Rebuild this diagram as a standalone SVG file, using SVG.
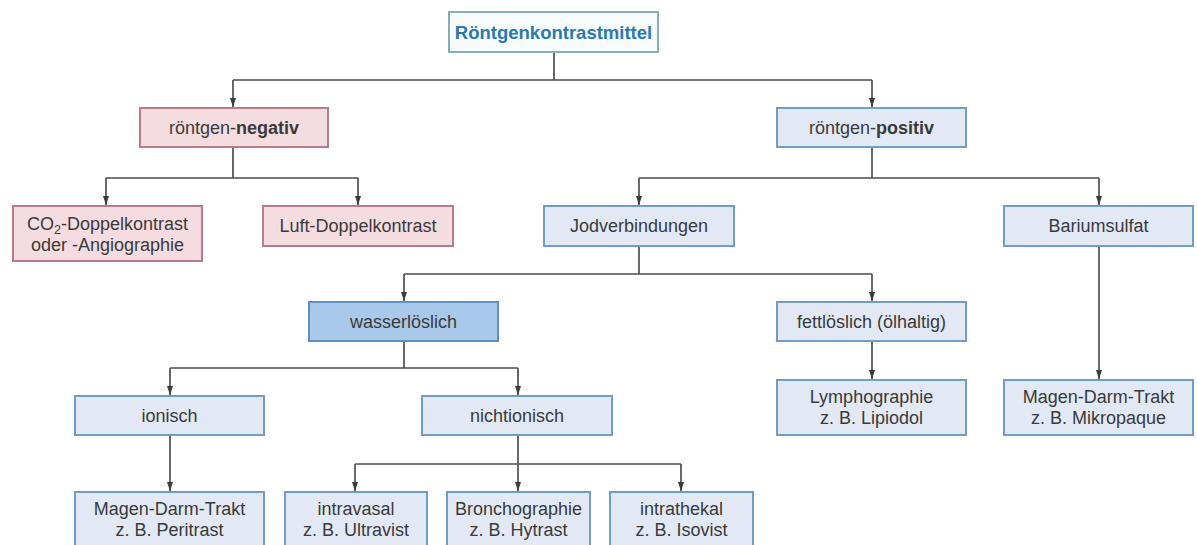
<svg xmlns="http://www.w3.org/2000/svg" width="1197" height="545" viewBox="0 0 1197 545">
<defs>
<marker id="arr" viewBox="0 0 9 6" refX="9" refY="3" markerWidth="9" markerHeight="6" markerUnits="userSpaceOnUse" orient="auto">
<path d="M0,0 L9,3 L0,6 Z" fill="#3c3c3c"/>
</marker>
</defs>
<style>
.bg{fill:#ffffff}
.root{fill:#f8fbfc;stroke:#86adb8;stroke-width:2}
.neg{fill:#f5dce1;stroke:#b77c89;stroke-width:2}
.pos{fill:#e2e9f5;stroke:#6f9dc4;stroke-width:2}
.dark{fill:#a9c9ea;stroke:#5f90c0;stroke-width:2}
text{font-family:"Liberation Sans",Arial,sans-serif;font-size:18px;fill:#3a3a3a;text-anchor:middle}
.rt{font-weight:bold;fill:#2a78b0;font-size:18.5px}
.b{font-weight:bold}
.c path{stroke:#4f4f4f;stroke-width:1.7;fill:none}
</style>
<rect class="bg" x="0" y="0" width="1197" height="545"/>
<g class="c" id="connectors">
<path d="M554 52 V80 M233 80 H872"/>
<path d="M233 80 V107" marker-end="url(#arr)"/>
<path d="M872 80 V107" marker-end="url(#arr)"/>
<path d="M233 147 V178 M106 178 H358"/>
<path d="M106 178 V205" marker-end="url(#arr)"/>
<path d="M358 178 V205" marker-end="url(#arr)"/>
<path d="M872 147 V178 M639 178 H1099"/>
<path d="M639 178 V205" marker-end="url(#arr)"/>
<path d="M1099 178 V205" marker-end="url(#arr)"/>
<path d="M639 246 V274 M404 274 H872"/>
<path d="M404 274 V301" marker-end="url(#arr)"/>
<path d="M872 274 V301" marker-end="url(#arr)"/>
<path d="M872 341 V379" marker-end="url(#arr)"/>
<path d="M1099 246 V379" marker-end="url(#arr)"/>
<path d="M404 341 V368 M170 368 H518"/>
<path d="M170 368 V395" marker-end="url(#arr)"/>
<path d="M518 368 V395" marker-end="url(#arr)"/>
<path d="M170 435 V491" marker-end="url(#arr)"/>
<path d="M518 435 V491" marker-end="url(#arr)"/>
<path d="M355 464 H681"/>
<path d="M355 464 V491" marker-end="url(#arr)"/>
<path d="M681 464 V491" marker-end="url(#arr)"/>
</g>
<g id="n-root"><rect class="root" x="449" y="12" width="209" height="40"/><text class="rt" x="553.5" y="38.5">Röntgenkontrastmittel</text></g>
<g id="n-negativ"><rect class="neg" x="140" y="108" width="188" height="39"/><text x="234" y="134">röntgen-<tspan class="b">negativ</tspan></text></g>
<g id="n-positiv"><rect class="pos" x="777" y="108" width="189" height="39"/><text x="871.5" y="134">röntgen-<tspan class="b">positiv</tspan></text></g>
<g id="n-co2"><rect class="neg" x="13" y="206" width="189" height="55"/><text x="107.5" y="230">CO<tspan font-size="12.5" dy="4">2</tspan><tspan dy="-4">-Doppelkontrast</tspan></text><text x="107.5" y="251">oder -Angiographie</text></g>
<g id="n-luft"><rect class="neg" x="263" y="206" width="190" height="40"/><text x="358" y="232">Luft-Doppelkontrast</text></g>
<g id="n-jod"><rect class="pos" x="544" y="206" width="190" height="40"/><text x="639" y="232">Jodverbindungen</text></g>
<g id="n-barium"><rect class="pos" x="1004" y="206" width="189" height="40"/><text x="1098.5" y="232">Bariumsulfat</text></g>
<g id="n-wasser"><rect class="dark" x="309" y="302" width="189" height="39"/><text x="403.5" y="328">wasserlöslich</text></g>
<g id="n-fett"><rect class="pos" x="777" y="302" width="189" height="39"/><text x="871.5" y="328">fettlöslich (ölhaltig)</text></g>
<g id="n-lymph"><rect class="pos" x="777" y="380" width="189" height="55"/><text x="871.5" y="403">Lymphographie</text><text x="871.5" y="424">z. B. Lipiodol</text></g>
<g id="n-mikro"><rect class="pos" x="1004" y="380" width="189" height="55"/><text x="1098.5" y="403">Magen-Darm-Trakt</text><text x="1098.5" y="424">z. B. Mikropaque</text></g>
<g id="n-ionisch"><rect class="pos" x="75" y="396" width="189" height="39"/><text x="169.5" y="422">ionisch</text></g>
<g id="n-nicht"><rect class="pos" x="422" y="396" width="190" height="39"/><text x="517" y="422">nichtionisch</text></g>
<g id="n-peri"><rect class="pos" x="75" y="492" width="189" height="62"/><text x="169.5" y="515">Magen-Darm-Trakt</text><text x="169.5" y="536">z. B. Peritrast</text></g>
<g id="n-intravasal"><rect class="pos" x="285" y="492" width="142" height="62"/><text x="356" y="515">intravasal</text><text x="356" y="536">z. B. Ultravist</text></g>
<g id="n-broncho"><rect class="pos" x="447" y="492" width="143" height="62"/><text x="518.5" y="515">Bronchographie</text><text x="518.5" y="536">z. B. Hytrast</text></g>
<g id="n-intrathekal"><rect class="pos" x="610" y="492" width="143" height="62"/><text x="681.5" y="515">intrathekal</text><text x="681.5" y="536">z. B. Isovist</text></g>
</svg>
